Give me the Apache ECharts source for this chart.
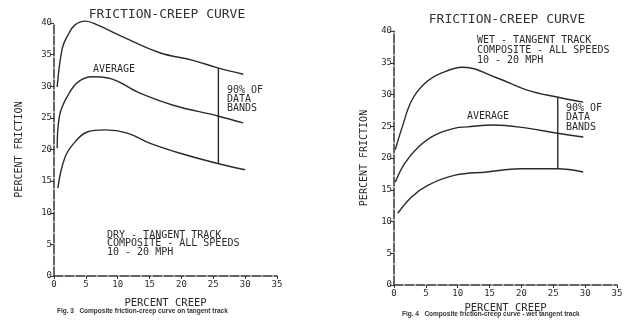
<!DOCTYPE html>
<html>
<head>
<meta charset="utf-8">
<script src="https://cdn.jsdelivr.net/npm/echarts@6/dist/echarts.min.js"></script>
<style>html,body{margin:0;padding:0;background:#fff}#c{width:632px;height:326px}</style>
</head>
<body>
<div id="c"></div>
<script>
// ---- Fig. 3 : DRY tangent track ----
const dryUpperCreep = [0.5, 1.3, 2.2, 3.3, 4.9, 6.8, 10.8, 16.6, 21.8, 25.7, 29.7];
const dryUpperFriction = [29.9, 36, 38.1, 39.7, 40.3, 39.7, 37.8, 35.3, 34.1, 32.9, 31.9];
const dryAvgCreep = [0.5, 0.9, 2.2, 3.8, 6, 8.5, 13.5, 18.7, 25.7, 29.7];
const dryAvgFriction = [20.2, 25.5, 28.6, 30.7, 31.5, 31.3, 28.9, 27, 25.3, 24.2];
const dryLowerCreep = [0.6, 1.7, 3.3, 5.3, 8, 11.5, 15, 19.8, 26, 30];
const dryLowerFriction = [13.9, 18.7, 21.2, 22.8, 23.1, 22.6, 21, 19.4, 17.7, 16.8];
const dryBandCreep = [25.8, 25.8];
const dryBandFriction = [17.7, 32.9];

// ---- Fig. 4 : WET tangent track ----
const wetUpperCreep = [0.2, 1.3, 2.8, 4.9, 7.5, 10.8, 16.2, 20.9, 25.6, 29.7];
const wetUpperFriction = [21.3, 24.9, 29.1, 31.8, 33.4, 34.3, 32.6, 30.7, 29.6, 28.8];
const wetAvgCreep = [0.2, 1.7, 3.8, 6.4, 9.6, 11.5, 15.6, 20.9, 25.6, 29.7];
const wetAvgFriction = [16.2, 19.2, 21.7, 23.6, 24.7, 24.9, 25.2, 24.7, 23.9, 23.3];
const wetLowerCreep = [0.6, 2.8, 5.3, 9.6, 14.6, 19.8, 25.6, 29.7];
const wetLowerFriction = [11.3, 13.9, 15.7, 17.3, 17.8, 18.3, 18.3, 17.8];
const wetBandCreep = [25.7, 25.7];
const wetBandFriction = [18.3, 29.6];

// ---- axes ----
const xMin = 0, xMax = 35, xStep = 5;
const yMin = 0, yMax = 40, yStep = 5;

const titleText = 'FRICTION-CREEP CURVE';
const xName = 'PERCENT CREEP';
const yName = 'PERCENT FRICTION';
const avgLabel = 'AVERAGE';
const bandLabel = '90% OF\nDATA\nBANDS';
const dryNote = 'DRY - TANGENT TRACK\nCOMPOSITE - ALL SPEEDS\n10 - 20 MPH';
const wetNote = 'WET - TANGENT TRACK\nCOMPOSITE - ALL SPEEDS\n10 - 20 MPH';
const dryCaption = 'Fig. 3   Composite friction-creep curve on tangent track';
const wetCaption = 'Fig. 4   Composite friction-creep curve - wet tangent track';

const zip = (a, b) => a.map((v, i) => [v, b[i]]);
const MONO = '"DejaVu Sans Mono", "Liberation Mono", monospace';
const INK = '#2a2a2a';

function xAxisFor(gi, gap) {
  return {
    type: 'value', gridIndex: gi, min: xMin, max: xMax, interval: xStep,
    name: xName, nameLocation: 'middle', nameGap: gap,
    nameTextStyle: { fontFamily: MONO, fontSize: 10.5, color: INK },
    axisLine: { show: true, lineStyle: { color: '#333', width: 1.5, type: [9, 2] } },
    axisTick: { show: true, length: 3, lineStyle: { color: '#333' } },
    axisLabel: { fontFamily: MONO, fontSize: 9, color: INK, margin: 4 },
    splitLine: { show: false }
  };
}
function yAxisFor(gi, gap) {
  return {
    type: 'value', gridIndex: gi, min: yMin, max: yMax, interval: yStep,
    name: yName, nameLocation: 'middle', nameGap: gap, nameRotate: 90,
    nameTextStyle: { fontFamily: MONO, fontSize: 10, color: INK },
    axisLine: { show: true, lineStyle: { color: '#333', width: 1.5, type: [9, 2] } },
    axisTick: { show: true, length: 4, lineStyle: { color: '#333' } },
    axisLabel: { fontFamily: MONO, fontSize: 9, color: INK, margin: 2 },
    splitLine: { show: false }
  };
}
function curve(xi, data, smooth) {
  return {
    type: 'line', xAxisIndex: xi, yAxisIndex: xi, data: data, clip: false,
    smooth: smooth, showSymbol: false, symbol: 'none', silent: true,
    lineStyle: { color: INK, width: 1.4 }
  };
}

const chart = echarts.init(document.getElementById('c'), null, { renderer: 'canvas' });
chart.setOption({
  backgroundColor: '#ffffff',
  animation: false,
  title: [
    { text: titleText, left: 162, top: 3, textAlign: 'center',
      textStyle: { fontFamily: MONO, fontSize: 13, fontWeight: 'normal', color: '#333' } },
    { text: titleText, left: 502, top: 8, textAlign: 'center',
      textStyle: { fontFamily: MONO, fontSize: 13, fontWeight: 'normal', color: '#333' } }
  ],
  grid: [
    { left: 54, right: 355, top: 23, bottom: 50 },
    { left: 394, right: 15, top: 31, bottom: 41 }
  ],
  xAxis: [xAxisFor(0, 22), xAxisFor(1, 17)],
  yAxis: [yAxisFor(0, 30), yAxisFor(1, 25)],
  series: [
    curve(0, zip(dryUpperCreep, dryUpperFriction), 0.4),
    curve(0, zip(dryAvgCreep, dryAvgFriction), 0.4),
    curve(0, zip(dryLowerCreep, dryLowerFriction), 0.4),
    curve(0, zip(dryBandCreep, dryBandFriction), false),
    curve(1, zip(wetUpperCreep, wetUpperFriction), 0.4),
    curve(1, zip(wetAvgCreep, wetAvgFriction), 0.4),
    curve(1, zip(wetLowerCreep, wetLowerFriction), 0.4),
    curve(1, zip(wetBandCreep, wetBandFriction), false)
  ],
  graphic: [
    { type: 'text', left: 93, top: 64, style: { text: avgLabel, font: '10px ' + MONO, fill: INK } },
    { type: 'text', left: 227, top: 85, style: { text: bandLabel, font: '10px ' + MONO, fill: INK, align: 'center', lineHeight: 9, x: 16 } },
    { type: 'text', left: 107, top: 230, style: { text: dryNote, font: '10px ' + MONO, fill: INK, lineHeight: 8.5 } },
    { type: 'text', left: 57, top: 308, style: { text: dryCaption, font: 'bold 6.5px "Liberation Sans", Arial, sans-serif', fill: '#333' } },
    { type: 'text', left: 467, top: 111, style: { text: avgLabel, font: '10px ' + MONO, fill: INK } },
    { type: 'text', left: 566, top: 103, style: { text: bandLabel, font: '10px ' + MONO, fill: INK, align: 'center', lineHeight: 9.5, x: 17 } },
    { type: 'text', left: 477, top: 35, style: { text: wetNote, font: '10px ' + MONO, fill: INK, lineHeight: 10 } },
    { type: 'text', left: 402, top: 311, style: { text: wetCaption, font: 'bold 6.5px "Liberation Sans", Arial, sans-serif', fill: '#333' } }
  ]
});
</script>
</body>
</html>
